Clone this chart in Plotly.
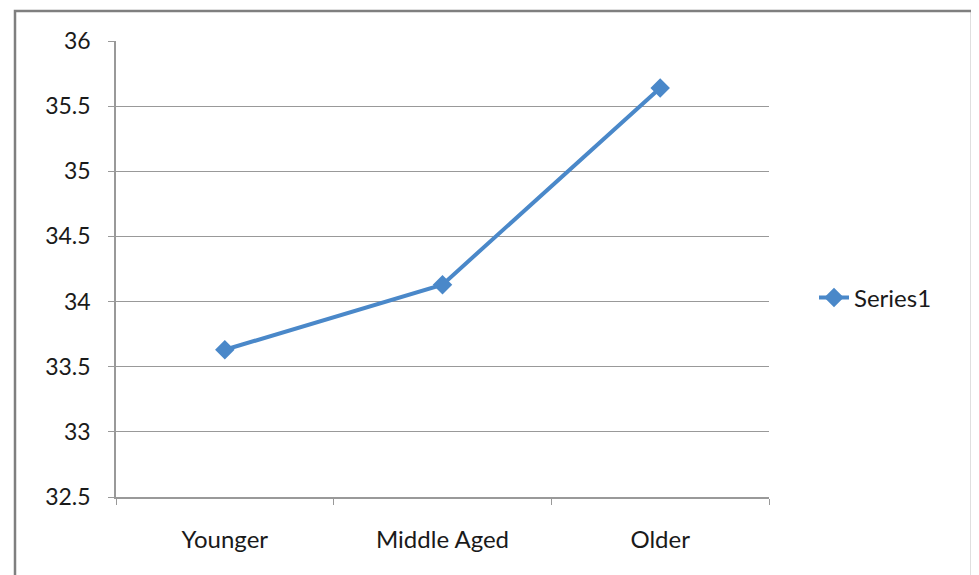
import plotly.graph_objects as go

categories = ["Younger", "Middle Aged", "Older"]
series1 = [33.63, 34.13, 35.64]
y_ticks = [32.5, 33, 33.5, 34, 34.5, 35, 35.5, 36]
y_tick_labels = ["32.5", "33", "33.5", "34", "34.5", "35", "35.5", "36"]

OFF = 8  # browser default body margin
W, H = 979 - OFF, 575 - OFF
L, R, T, B = 116 - OFF, 769 - OFF, 41 - OFF, 497 - OFF
pw, ph = R - L, B - T

fig = go.Figure()
fig.add_trace(go.Scatter(
    x=categories, y=series1, name="Series1", mode="lines+markers",
    line=dict(color="#4a88c9", width=4),
    marker=dict(symbol="diamond", size=15, color="#4a88c9"),
))

grid = "#999999"
fig.update_layout(
    width=W, height=H,
    margin=dict(l=L, r=W - R, t=T, b=H - B, pad=0),
    paper_bgcolor="white", plot_bgcolor="white",
    font=dict(family="Lato, Open Sans, sans-serif", color="#1a1a1a"),
    showlegend=True,
    legend=dict(x=(814 - OFF - L) / pw, y=(B - (298 - OFF)) / ph, xanchor="left", yanchor="middle",
                font=dict(size=24), bgcolor="rgba(0,0,0,0)", itemwidth=30),
    xaxis=dict(type="category", range=[-0.5, 2.5], showgrid=False,
               showline=True, linecolor=grid, linewidth=1.5,
               ticks="outside", tickson="boundaries", ticklen=6, tickcolor=grid,
               tickfont=dict(size=24), ticklabelstandoff=20, fixedrange=True),
    yaxis=dict(range=[32.5, 36], tickvals=y_ticks, ticktext=y_tick_labels,
               showgrid=True, gridcolor=grid, gridwidth=1.2,
               showline=True, linecolor=grid, linewidth=1.5, zeroline=False,
               ticks="outside", ticklen=6, tickcolor=grid,
               tickfont=dict(size=23), ticklabelstandoff=13, fixedrange=True),
    shapes=[dict(type="rect", xref="paper", yref="paper",
                 x0=(15 - OFF - L) / pw, x1=(972 - OFF - L) / pw,
                 y0=(B - (590 - OFF)) / ph, y1=(B - (11 - OFF)) / ph,
                 line=dict(color="#7f7f7f", width=2.5), fillcolor="rgba(0,0,0,0)",
                 layer="below")],
)

fig.write_html("out.html")
